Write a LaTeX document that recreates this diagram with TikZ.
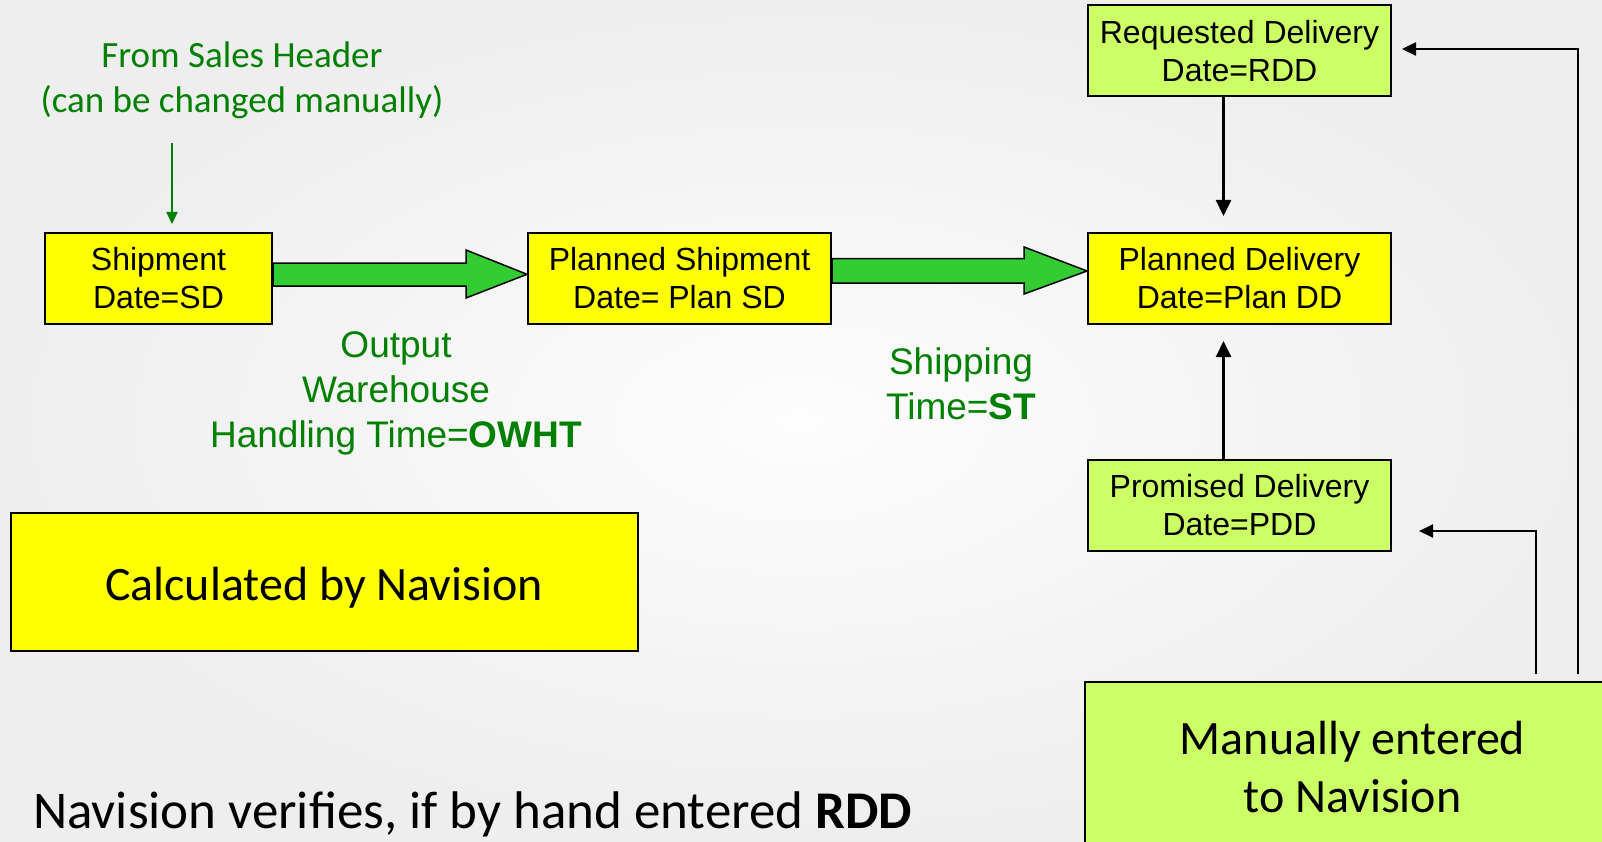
\documentclass[tikz,border=0pt]{standalone}
\usepackage{fontspec}
\setmainfont{Liberation Sans}
\newfontfamily\calibri{Carlito}
\usetikzlibrary{arrows.meta,calc}
\definecolor{ylw}{RGB}{255,255,0}
\definecolor{lgreen}{RGB}{204,255,102}
\definecolor{agreen}{RGB}{51,204,51}
\definecolor{tgreen}{RGB}{0,128,0}
\definecolor{bgout}{RGB}{238,238,238}
\definecolor{bgin}{RGB}{253,253,253}
\begin{document}
\begin{tikzpicture}[x=1pt,y=-1pt,
  datebox/.style={draw=black,line width=2pt,minimum width=303pt,minimum height=91pt,inner sep=0pt,align=center,font=\fontsize{32}{38}\selectfont},
  bigbox/.style={draw=black,line width=2pt,inner sep=0pt,align=center,font=\calibri\fontsize{48}{58}\selectfont},
  glabel/.style={text=tgreen,align=center,inner sep=0pt,font=\calibri\fontsize{37}{45}\selectfont},
  tlabel/.style={text=tgreen,align=center,inner sep=0pt,font=\fontsize{37}{45}\selectfont},
  fatarrow/.style={draw=black,line width=1.5pt,fill=agreen,line join=miter},
  thinarrow/.style={draw=black,line width=2.5pt,-{Triangle[length=16pt,width=15pt]}},
  sidearrow/.style={draw=black,line width=2.5pt,-{Triangle[length=14pt,width=13pt]}},
  greenarrow/.style={draw=tgreen,line width=2.3pt,-{Triangle[length=12pt,width=11pt]}}
]
\useasboundingbox (0,0) rectangle (1602,842);
\shade[inner color=bgin,outer color=bgout] (0,0) rectangle (1602,842);

% boxes
\node[datebox,fill=ylw,minimum width=227pt] (s) at (158.5,278.5) {Shipment\\Date=SD};
\node[datebox,fill=ylw] (ps) at (679.5,278.5) {Planned Shipment\\Date= Plan SD};
\node[datebox,fill=ylw] (pd) at (1239.5,278.5) {Planned Delivery\\Date=Plan DD};
\node[datebox,fill=lgreen] (rdd) at (1239.5,51) {Requested Delivery\\Date=RDD};
\node[datebox,fill=lgreen] (pdd) at (1239.5,505.5) {Promised Delivery\\Date=PDD};
\node[bigbox,fill=ylw,minimum width=627pt,minimum height=138pt] (calc) at (324,582) {\raisebox{-6pt}[\height][\depth]{Calculated by Navision}};
\node[bigbox,fill=lgreen,minimum width=535pt,minimum height=170pt] (man) at (1352.5,767) {Manually entered\\to Navision};

% labels
\node[glabel] (fsh) at (242,80) {From Sales Header\\(can be changed manually)};
\node[tlabel] (owht) at (396,393) {Output\\Warehouse\\Handling Time=\textbf{OWHT}};
\node[tlabel] (st) at (961,384) {Shipping\\Time=\textbf{ST}};
\node[anchor=base west,inner sep=0pt,font=\calibri\fontsize{53}{58}\selectfont] (nv) at (33,828) {Navision verifies, if by hand entered \textbf{RDD}};

% fat arrows
\draw[fatarrow] ($(s.east)+(0,-15.5)$) -- ($(ps.west)+(-61,-15.5)$) -- ($(ps.west)+(-61,-28.5)$) -- ($(ps.west)+(0,-4.2)$) -- ($(ps.west)+(-61,19.5)$) -- ($(ps.west)+(-61,7.5)$) -- ($(s.east)+(0,7.5)$) -- cycle;
\draw[fatarrow] ($(ps.east)+(0,-20)$) -- ($(pd.west)+(-63,-20)$) -- ($(pd.west)+(-63,-31.5)$) -- ($(pd.west)+(0,-7.5)$) -- ($(pd.west)+(-63,15.5)$) -- ($(pd.west)+(-63,4.5)$) -- ($(ps.east)+(0,4.5)$) -- cycle;

% thin arrows
\draw[thinarrow] ($(rdd.south)+(-16,0)$) -- ($(pd.north)+(-16,-16)$);
\draw[thinarrow] ($(pdd.north)+(-16,0)$) -- ($(pd.south)+(-16,16)$);
\coordinate (gs) at (172,143);
\draw[greenarrow] (gs) -- ($(gs |- s.north)+(0,-8)$);

\coordinate (c1) at (1578,674);
\coordinate (c2) at (1536,674);
\draw[sidearrow] (c1) |- ($(rdd.east)+(10,-2)$);
\draw[sidearrow,line width=2pt] (c2) |- ($(pdd.east)+(27,25.5)$);
\end{tikzpicture}
\end{document}
